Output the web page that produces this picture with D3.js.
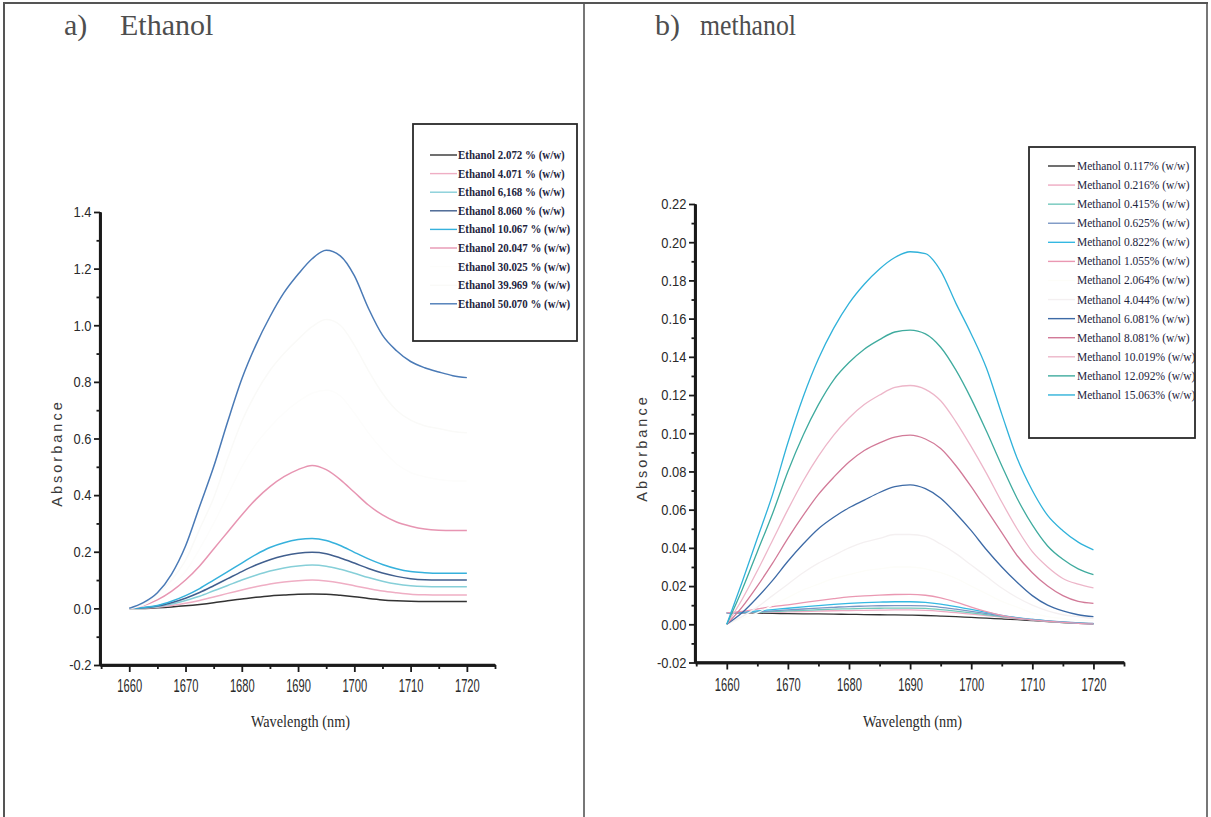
<!DOCTYPE html>
<html>
<head>
<meta charset="utf-8">
<script src="https://cdn.jsdelivr.net/npm/d3@7"></script>
<style>
  html, body { margin: 0; padding: 0; background: #fff; }
  svg { display: block; }
  .axis path.domain { stroke: #1a1a1a; stroke-width: 2.6px; }
  .axis .tick line { stroke: #1a1a1a; stroke-width: 1.8px; }
</style>
</head>
<body>
<script>
// ---- wavelength grid (nm) shared by every spectrum ----
const wavelengths = [1660, 1662.5, 1665, 1667.5, 1670, 1672.5, 1675, 1677.5, 1680, 1682.5,
  1685, 1687.5, 1690, 1692.5, 1695, 1697.5, 1700, 1702.5, 1705, 1707.5,
  1710, 1712.5, 1715, 1717.5, 1720];

// ---- ethanol spectra (absorbance) ----
const eth_2_072  = [0, 0.000, 0.002, 0.005, 0.009, 0.014, 0.020, 0.027, 0.033, 0.039, 0.044, 0.047, 0.050, 0.051, 0.050, 0.046, 0.041, 0.035, 0.030, 0.027, 0.025, 0.024, 0.024, 0.024, 0.024];
const eth_4_071  = [0, 0.001, 0.004, 0.010, 0.018, 0.028, 0.040, 0.053, 0.065, 0.076, 0.086, 0.093, 0.098, 0.100, 0.097, 0.090, 0.080, 0.070, 0.061, 0.055, 0.050, 0.048, 0.047, 0.047, 0.047];
const eth_6_168  = [0, 0.002, 0.006, 0.015, 0.028, 0.043, 0.062, 0.081, 0.100, 0.117, 0.132, 0.143, 0.150, 0.153, 0.149, 0.138, 0.124, 0.109, 0.096, 0.086, 0.080, 0.077, 0.076, 0.076, 0.076];
const eth_8_060  = [0, 0.002, 0.008, 0.020, 0.036, 0.056, 0.080, 0.105, 0.130, 0.153, 0.172, 0.186, 0.195, 0.198, 0.193, 0.178, 0.160, 0.141, 0.125, 0.113, 0.105, 0.101, 0.100, 0.100, 0.100];
const eth_10_067 = [0, 0.003, 0.010, 0.025, 0.045, 0.070, 0.100, 0.130, 0.160, 0.190, 0.215, 0.232, 0.243, 0.247, 0.240, 0.222, 0.198, 0.175, 0.155, 0.140, 0.130, 0.126, 0.124, 0.124, 0.124];
const eth_20_047 = [0, 0.010, 0.030, 0.060, 0.100, 0.150, 0.210, 0.270, 0.330, 0.385, 0.430, 0.465, 0.490, 0.505, 0.490, 0.455, 0.410, 0.365, 0.330, 0.305, 0.290, 0.280, 0.276, 0.275, 0.275];
const eth_30_025 = [0, 0.012, 0.040, 0.080, 0.130, 0.210, 0.300, 0.400, 0.500, 0.580, 0.640, 0.690, 0.730, 0.760, 0.770, 0.750, 0.690, 0.620, 0.560, 0.510, 0.480, 0.465, 0.455, 0.450, 0.450];
const eth_39_969 = [0, 0.015, 0.050, 0.100, 0.170, 0.280, 0.390, 0.530, 0.660, 0.760, 0.840, 0.900, 0.950, 0.995, 1.020, 1.000, 0.930, 0.840, 0.760, 0.700, 0.665, 0.645, 0.635, 0.625, 0.620];
const eth_50_070 = [0, 0.020, 0.055, 0.120, 0.220, 0.360, 0.500, 0.660, 0.810, 0.930, 1.030, 1.115, 1.180, 1.235, 1.265, 1.245, 1.175, 1.060, 0.965, 0.910, 0.872, 0.850, 0.835, 0.822, 0.815];

const ethanolLabels = ["Ethanol 2.072 % (w/w)", "Ethanol 4.071 % (w/w)", "Ethanol 6,168 % (w/w)",
  "Ethanol 8.060 % (w/w)", "Ethanol 10.067 % (w/w)", "Ethanol 20.047 % (w/w)",
  "Ethanol 30.025 % (w/w)", "Ethanol 39.969 % (w/w)", "Ethanol 50.070 % (w/w)"];
const ethanolColors = ["#333333", "#efaec4", "#86cfd8", "#415f8e", "#36b1dc", "#e795b2",
  "#fdfdfc", "#fafaf8", "#4a7ab6"];

// ---- methanol spectra (absorbance) ----
const met_0_117  = [0.0060, 0.0059, 0.0058, 0.0057, 0.0056, 0.0055, 0.0054, 0.0053, 0.0052, 0.0051, 0.0050, 0.0049, 0.0048, 0.0046, 0.0043, 0.0040, 0.0036, 0.0032, 0.0028, 0.0024, 0.0019, 0.0014, 0.0009, 0.0005, 0.0002];
const met_0_216  = [0.0058, 0.0059, 0.0061, 0.0063, 0.0065, 0.0067, 0.0069, 0.0071, 0.0072, 0.0073, 0.0074, 0.0075, 0.0075, 0.0073, 0.0068, 0.0061, 0.0053, 0.0045, 0.0037, 0.0029, 0.0022, 0.0015, 0.0010, 0.0006, 0.0003];
const met_0_415  = [0.0058, 0.0060, 0.0063, 0.0066, 0.0070, 0.0073, 0.0076, 0.0079, 0.0081, 0.0083, 0.0084, 0.0085, 0.0085, 0.0083, 0.0077, 0.0069, 0.0060, 0.0050, 0.0040, 0.0031, 0.0023, 0.0016, 0.0010, 0.0006, 0.0003];
const met_0_625  = [0.0058, 0.0061, 0.0065, 0.0070, 0.0075, 0.0080, 0.0085, 0.0089, 0.0093, 0.0095, 0.0097, 0.0098, 0.0098, 0.0096, 0.0089, 0.0079, 0.0068, 0.0056, 0.0044, 0.0034, 0.0025, 0.0018, 0.0012, 0.0007, 0.0004];
const met_0_822  = [0.0060, 0.0064, 0.0070, 0.0077, 0.0084, 0.0091, 0.0098, 0.0104, 0.0109, 0.0113, 0.0116, 0.0118, 0.0118, 0.0115, 0.0106, 0.0093, 0.0078, 0.0062, 0.0047, 0.0035, 0.0026, 0.0018, 0.0011, 0.0006, 0.0003];
const met_1_055  = [0.0060, 0.0068, 0.0080, 0.0092, 0.0102, 0.0113, 0.0124, 0.0134, 0.0143, 0.0149, 0.0153, 0.0156, 0.0157, 0.0152, 0.0138, 0.0116, 0.0090, 0.0066, 0.0046, 0.0032, 0.0023, 0.0016, 0.0010, 0.0005, 0.0002];
const met_2_064  = [0, 0.003, 0.006, 0.010, 0.014, 0.018, 0.021, 0.024, 0.026, 0.028, 0.029, 0.030, 0.030, 0.029, 0.027, 0.024, 0.020, 0.016, 0.012, 0.009, 0.006, 0.004, 0.003, 0.002, 0.002];
const met_4_044  = [0, 0.004, 0.009, 0.015, 0.021, 0.027, 0.032, 0.036, 0.040, 0.043, 0.045, 0.047, 0.047, 0.046, 0.042, 0.037, 0.031, 0.025, 0.019, 0.014, 0.010, 0.007, 0.005, 0.004, 0.003];
const met_6_081  = [0, 0.006, 0.014, 0.023, 0.033, 0.042, 0.050, 0.056, 0.061, 0.065, 0.069, 0.072, 0.073, 0.071, 0.066, 0.058, 0.049, 0.039, 0.030, 0.022, 0.015, 0.010, 0.007, 0.005, 0.004];
const met_8_081  = [0, 0.009, 0.020, 0.032, 0.045, 0.057, 0.068, 0.077, 0.085, 0.091, 0.095, 0.098, 0.099, 0.097, 0.092, 0.083, 0.072, 0.060, 0.048, 0.036, 0.027, 0.020, 0.015, 0.012, 0.011];
const met_10_019 = [0, 0.013, 0.028, 0.044, 0.060, 0.075, 0.088, 0.099, 0.108, 0.115, 0.120, 0.124, 0.125, 0.123, 0.117, 0.106, 0.093, 0.079, 0.064, 0.050, 0.038, 0.030, 0.024, 0.021, 0.019];
const met_12_092 = [0, 0.018, 0.038, 0.058, 0.080, 0.099, 0.115, 0.128, 0.137, 0.144, 0.149, 0.153, 0.154, 0.152, 0.145, 0.133, 0.118, 0.101, 0.083, 0.066, 0.052, 0.041, 0.034, 0.029, 0.026];
const met_15_063 = [0, 0.022, 0.045, 0.068, 0.095, 0.119, 0.139, 0.155, 0.168, 0.178, 0.186, 0.192, 0.195, 0.194, 0.185, 0.168, 0.152, 0.134, 0.110, 0.087, 0.070, 0.057, 0.049, 0.043, 0.039];

const methanolLabels = ["Methanol 0.117% (w/w)", "Methanol 0.216% (w/w)", "Methanol 0.415% (w/w)",
  "Methanol 0.625% (w/w)", "Methanol 0.822% (w/w)", "Methanol 1.055% (w/w)", "Methanol 2.064% (w/w)",
  "Methanol 4.044% (w/w)", "Methanol 6.081% (w/w)", "Methanol 8.081% (w/w)", "Methanol 10.019% (w/w)",
  "Methanol 12.092% (w/w)", "Methanol 15.063% (w/w)"];
const methanolColors = ["#333333", "#eeaac2", "#72c8bc", "#7a96c4", "#34b8e2", "#ea98b2", "#fdfdf9",
  "#f4f0f1", "#3d6aa6", "#d27a98", "#edb6c9", "#3fab9e", "#30b2da"];

// tick values
const xMajorTicks = [1660, 1670, 1680, 1690, 1700, 1710, 1720];
const xMinorTicks = [1655, 1665, 1675, 1685, 1695, 1705, 1715, 1725];
const ethYTicks = [-0.2, 0.0, 0.2, 0.4, 0.6, 0.8, 1.0, 1.2, 1.4];
const ethYMinor = [-0.1, 0.1, 0.3, 0.5, 0.7, 0.9, 1.1, 1.3];
const metYTicks = [-0.02, 0.00, 0.02, 0.04, 0.06, 0.08, 0.10, 0.12, 0.14, 0.16, 0.18, 0.20, 0.22];
const metYMinor = [-0.01, 0.01, 0.03, 0.05, 0.07, 0.09, 0.11, 0.13, 0.15, 0.17, 0.19, 0.21];

const ethanolSeries = [eth_2_072, eth_4_071, eth_6_168, eth_8_060, eth_10_067, eth_20_047, eth_30_025, eth_39_969, eth_50_070]
  .map((v, i) => ({ label: ethanolLabels[i], color: ethanolColors[i], values: v }));
const methanolSeries = [met_0_117, met_0_216, met_0_415, met_0_625, met_0_822, met_1_055, met_2_064, met_4_044, met_6_081, met_8_081, met_10_019, met_12_092, met_15_063]
  .map((v, i) => ({ label: methanolLabels[i], color: methanolColors[i], values: v }));

const W = 1211, H = 817;
const svg = d3.select("body").append("svg").attr("width", W).attr("height", H);

// page frame split into two panels
const frame = svg.append("g").style("stroke", "#555").style("fill", "none");
frame.append("line").attr("x1", 3).attr("x2", 1208).attr("y1", 3).attr("y2", 3).style("stroke-width", 2);
frame.append("line").attr("x1", 4).attr("x2", 4).attr("y1", 3).attr("y2", H).style("stroke-width", 2);
frame.append("line").attr("x1", 584).attr("x2", 584).attr("y1", 3).attr("y2", H).style("stroke-width", 1.6);
frame.append("line").attr("x1", 1207).attr("x2", 1207).attr("y1", 3).attr("y2", H).style("stroke-width", 1.6);

function drawPanel(cfg) {
  const g = svg.append("g");
  const x = d3.scaleLinear().domain([1654.8, 1725]).range([cfg.left, cfg.right]);
  const y = d3.scaleLinear().domain(cfg.yDomain).range([cfg.bottom, cfg.top]);

  // panel heading
  g.append("text").attr("x", cfg.titleX).attr("y", 35)
    .attr("font-family", "Liberation Serif, Times New Roman, serif").attr("font-size", 30)
    .attr("fill", "#4e4e4e").text(cfg.letter);
  g.append("text").attr("transform", `translate(${cfg.nameX},35) scale(${cfg.nameScale},1)`)
    .attr("font-family", "Liberation Serif, Times New Roman, serif").attr("font-size", 30)
    .attr("fill", "#4e4e4e").text(cfg.title);

  // spectra
  const line = d3.line()
    .x((d, i) => x(wavelengths[i]))
    .y(d => y(d))
    .curve(d3.curveMonotoneX);
  g.append("g").selectAll("path").data(cfg.series).join("path")
    .attr("d", d => line(d.values))
    .attr("fill", "none")
    .attr("stroke", d => d.color)
    .attr("stroke-width", cfg.lineWidth);

  // axes (major + minor ticks)
  g.append("g").attr("class", "axis").attr("transform", `translate(0,${cfg.bottom})`)
    .call(d3.axisBottom(x).tickValues(xMinorTicks).tickSize(4).tickSizeOuter(0).tickFormat(""));
  const xAxis = g.append("g").attr("class", "axis").attr("transform", `translate(0,${cfg.bottom})`)
    .call(d3.axisBottom(x).tickValues(xMajorTicks).tickSize(7).tickSizeOuter(0).tickFormat(d3.format("d")).tickPadding(cfg.xPad));
  xAxis.selectAll(".tick text")
    .attr("font-family", "Liberation Sans, Arial, sans-serif").attr("font-size", 18)
    .attr("fill", "#2a2a2a").attr("transform", "scale(0.62,1)");

  g.append("g").attr("class", "axis").attr("transform", `translate(${cfg.left},0)`)
    .call(d3.axisLeft(y).tickValues(cfg.yMinor).tickSize(3.5).tickSizeOuter(0).tickFormat(""));
  const yAxis = g.append("g").attr("class", "axis").attr("transform", `translate(${cfg.left},0)`)
    .call(d3.axisLeft(y).tickValues(cfg.yTicks).tickSize(6).tickSizeOuter(0).tickFormat(cfg.yFormat).tickPadding(4));
  yAxis.selectAll(".tick text")
    .attr("font-family", "Liberation Sans, Arial, sans-serif").attr("font-size", 15)
    .attr("fill", "#2a2a2a").attr("transform", "scale(0.86,1)");

  // heavy axis spines along the scale ranges
  g.append("line").attr("x1", x.range()[0]).attr("x2", x.range()[1])
    .attr("y1", y.range()[0]).attr("y2", y.range()[0])
    .attr("stroke", "#1a1a1a").attr("stroke-width", 2.6);
  g.append("line").attr("x1", x.range()[0]).attr("x2", x.range()[0])
    .attr("y1", y.range()[0]).attr("y2", y.range()[1])
    .attr("stroke", "#1a1a1a").attr("stroke-width", 2.2);

  // axis titles
  g.append("text")
    .attr("transform", `translate(${cfg.yTitleX},${cfg.yTitleY}) rotate(-90)`)
    .attr("text-anchor", "middle")
    .attr("font-family", "Liberation Sans, Arial, sans-serif").attr("font-size", 14.5)
    .attr("letter-spacing", 3).attr("fill", "#3a3a3a").text("Absorbance");
  g.append("text")
    .attr("transform", `translate(${(cfg.left + cfg.right) / 2 + 3},727) scale(0.84,1)`)
    .attr("text-anchor", "middle")
    .attr("font-family", "Liberation Serif, Times New Roman, serif").attr("font-size", 17)
    .attr("fill", "#2a2a2a").text("Wavelength (nm)");

  // legend
  const L = cfg.legend;
  g.append("rect").attr("x", L.x).attr("y", L.y).attr("width", L.w).attr("height", L.h)
    .attr("fill", "#fff").attr("stroke", "#2a2a2a").attr("stroke-width", 1.8);
  const items = g.append("g").selectAll("g").data(cfg.series).join("g")
    .attr("transform", (d, i) => `translate(${L.x},${L.firstRow + i * L.step})`);
  items.append("line").attr("x1", L.lineX1).attr("x2", L.lineX2).attr("y1", 0).attr("y2", 0)
    .attr("stroke", d => d.color).attr("stroke-width", 1.4);
  items.append("text")
    .attr("transform", `translate(${L.textX},4) scale(${L.textScale},1)`)
    .attr("font-family", "Liberation Serif, Times New Roman, serif")
    .attr("font-size", L.fontSize).attr("font-weight", L.fontWeight)
    .attr("fill", "#1e2540").text(d => d.label);
}

drawPanel({
  letter: "a)", title: "Ethanol", titleX: 64, nameX: 120, nameScale: 1,
  left: 100, right: 495, top: 212, bottom: 665, xPad: 7,
  yDomain: [-0.2, 1.4], yTicks: ethYTicks, yMinor: ethYMinor,
  yFormat: d => d.toFixed(1),
  series: ethanolSeries, lineWidth: 1.5,
  yTitleX: 62, yTitleY: 453,
  legend: { x: 413, y: 124, w: 164, h: 217, firstRow: 155, step: 18.6,
            lineX1: 17, lineX2: 44, textX: 45, fontSize: 13, fontWeight: "bold", textScale: 0.84 }
});

drawPanel({
  letter: "b)", title: "methanol", titleX: 655, nameX: 700, nameScale: 0.86,
  left: 695, right: 1124, top: 204, bottom: 662.5, xPad: 9,
  yDomain: [-0.02, 0.22], yTicks: metYTicks, yMinor: metYMinor,
  yFormat: d => d.toFixed(2),
  series: methanolSeries, lineWidth: 1.3,
  yTitleX: 647, yTitleY: 448,
  legend: { x: 1029, y: 147, w: 166, h: 291, firstRow: 166, step: 19.08,
            lineX1: 19, lineX2: 46, textX: 48, fontSize: 12.5, fontWeight: "normal", textScale: 0.92 }
});
</script>
</body>
</html>
